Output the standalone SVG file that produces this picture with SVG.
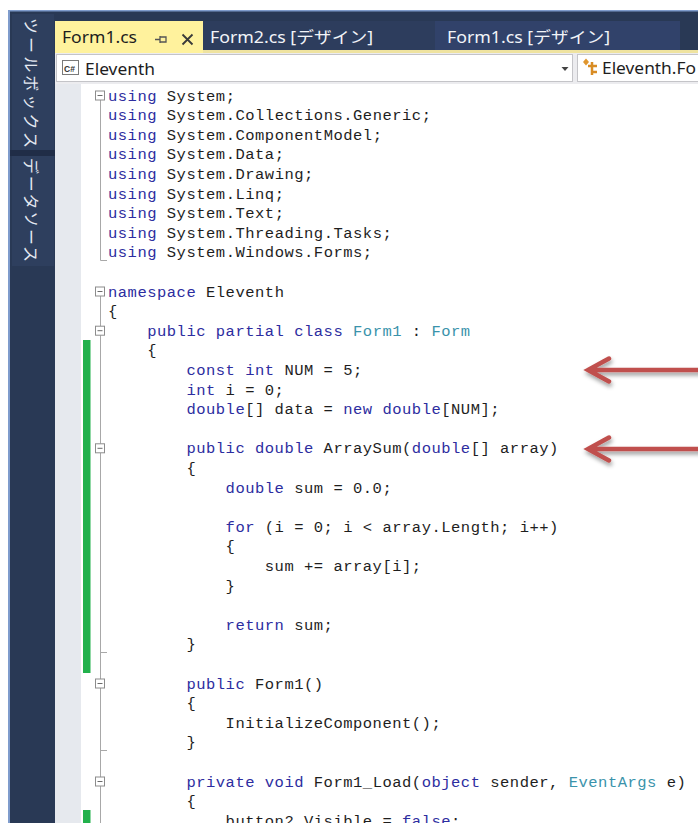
<svg xmlns="http://www.w3.org/2000/svg" width="698" height="823" viewBox="0 0 698 823">
  <defs>
    <style>
      .frame { fill: #293955; }
      .side-txt { font-family: "Noto Sans CJK JP", "Noto Sans", sans-serif; font-size: 16px; fill: #e4e9f2; }
      .tab-txt { font-family: "Noto Sans", "Noto Sans CJK JP", sans-serif; font-size: 16px; }
      .nav-txt { font-family: "Noto Sans", sans-serif; font-size: 16px; fill: #1e1e1e; }
      .c { font-family: "Liberation Mono", "DejaVu Sans Mono", monospace; font-size: 15.5px; letter-spacing: 0.5px; fill: #1e1e1e; }
      .k { fill: #2d2da0; }
      .t { fill: #3a93ab; }
      .fold rect { fill: #ffffff; stroke: #8c8c8c; stroke-width: 1; }
      .fold line { stroke: #6c6c6c; stroke-width: 1; }
      .guide { stroke: #a8a8a8; stroke-width: 1; fill: none; }
      .chg { fill: #22b14c; }
      .arrow { stroke: #c0504d; stroke-width: 4.5; fill: none; stroke-linecap: round; stroke-linejoin: miter; }
    </style>
    <filter id="shadow" x="-20%" y="-50%" width="140%" height="200%">
      <feDropShadow dx="1" dy="3" stdDeviation="2" flood-color="#000000" flood-opacity="0.4"/>
    </filter>
    <!-- collapse box used by the outlining margin -->
    <g id="fold-box" class="fold">
      <rect x="95.5" y="-4.5" width="9" height="9"/>
      <line x1="97.5" y1="0" x2="102.5" y2="0"/>
    </g>
  </defs>

  <!-- page -->
  <rect x="0" y="0" width="698" height="823" fill="#ffffff"/>

  <!-- IDE frame -->
  <rect x="8" y="10" width="690" height="813" fill="#7f9ccc"/>
  <rect x="10" y="11.5" width="688" height="811.5" class="frame"/>

  <!-- side tool tabs -->
  <g id="side-tabs">
    <rect x="12" y="14" width="42" height="136" fill="#2e3f5e"/>
    <rect x="12" y="156" width="42" height="110" fill="#2e3f5e"/>
    <rect x="10" y="150" width="45" height="6" fill="#202d47"/>
    <text class="side-txt" transform="translate(25,18) rotate(90)" textLength="130" lengthAdjust="spacing">ツールボックス</text>
    <text class="side-txt" transform="translate(25,158) rotate(90)" textLength="104" lengthAdjust="spacing">データソース</text>
  </g>

  <!-- document tabs -->
  <g id="doc-tabs">
    <rect x="203" y="21" width="232" height="29" fill="#2d3d5d"/>
    <rect x="435" y="21" width="245" height="29" fill="#31426a"/>
    <rect x="55" y="50" width="643" height="3" fill="#efe3a0"/>
    <g id="tab-form1">
      <rect x="55" y="21" width="148" height="32" fill="#fff29d"/>
      <text class="tab-txt" x="62" y="43" fill="#1e1e1e" textLength="75" lengthAdjust="spacingAndGlyphs">Form1.cs</text>
      <!-- pin -->
      <path d="M155 39.5 H160 M160 36 V43 M160 37 H166 V42 H160" stroke="#555555" stroke-width="1.3" fill="none"/>
      <!-- close -->
      <path d="M182.5 34.5 L192.5 44.5 M192.5 34.5 L182.5 44.5" stroke="#3a3a3a" stroke-width="1.8"/>
    </g>
    <g id="tab-form2-design">
      <text class="tab-txt" x="210" y="43" fill="#f2f4f8" textLength="163" lengthAdjust="spacingAndGlyphs">Form2.cs [デザイン]</text>
    </g>
    <g id="tab-form1-design">
      <text class="tab-txt" x="447" y="43" fill="#f2f4f8" textLength="163" lengthAdjust="spacingAndGlyphs">Form1.cs [デザイン]</text>
    </g>
  </g>

  <!-- navigation bar -->
  <g id="nav-bar">
    <rect x="55" y="53" width="643" height="31" fill="#ececef"/>
    <g id="nav-project">
      <rect x="56.5" y="54.5" width="516" height="27" fill="#ffffff" stroke="#c4c4c8"/>
      <rect x="62.5" y="60.5" width="16" height="14" fill="#ffffff" stroke="#7a7a7a"/>
      <text x="64" y="71.5" font-family="Liberation Sans, sans-serif" font-size="8.5px" font-weight="bold" fill="#333333">C#</text>
      <text class="nav-txt" x="85" y="75" textLength="70" lengthAdjust="spacingAndGlyphs">Eleventh</text>
      <path d="M561.5 67 H568.5 L565 71 Z" fill="#444444"/>
    </g>
    <g id="nav-type">
      <rect x="577.5" y="54.5" width="130" height="27" fill="#ffffff" stroke="#c4c4c8"/>
      <path d="M583 62 L586 58.5 L589 62 L586 65.5 Z" fill="#e0962e"/>
      <path d="M588 66 H597 M592 62 V75 M592 72 H597" stroke="#d88c24" stroke-width="2.5" fill="none"/>
      <text class="nav-txt" x="602" y="74" textLength="94" lengthAdjust="spacingAndGlyphs">Eleventh.Fo</text>
    </g>
  </g>

  <!-- editor surface -->
  <rect x="55" y="84" width="643" height="739" fill="#ffffff"/>
  <rect x="55" y="84" width="26" height="739" fill="#e6e9ee"/>

  <!-- change markers -->
  <g id="change-bars">
    <rect class="chg" x="83" y="340" width="7.5" height="333"/>
    <rect class="chg" x="83" y="810" width="7.5" height="13"/>
  </g>

  <!-- outlining guides -->
  <g id="outlining">
    <path class="guide" d="M100.5 100 V260.5 H107"/>
    <path class="guide" d="M100.5 296 V326.2 M100.5 335.2 V443.8 M100.5 452.8 V679 M100.5 688 V777 M100.5 786 V823"/>
    <path class="guide" d="M100.5 652.5 H107 M100.5 750.5 H107"/>
    <use href="#fold-box" y="95.5"/>
    <use href="#fold-box" y="291.5"/>
    <use href="#fold-box" y="330.7"/>
    <use href="#fold-box" y="448.3"/>
    <use href="#fold-box" y="683.5"/>
    <use href="#fold-box" y="781.5"/>
  </g>

  <!-- source code -->
  <g id="code">
    <text class="c" x="108" y="100.5"><tspan class="k">using</tspan> System;</text>
    <text class="c" x="108" y="120.1"><tspan class="k">using</tspan> System.Collections.Generic;</text>
    <text class="c" x="108" y="139.7"><tspan class="k">using</tspan> System.ComponentModel;</text>
    <text class="c" x="108" y="159.3"><tspan class="k">using</tspan> System.Data;</text>
    <text class="c" x="108" y="178.9"><tspan class="k">using</tspan> System.Drawing;</text>
    <text class="c" x="108" y="198.5"><tspan class="k">using</tspan> System.Linq;</text>
    <text class="c" x="108" y="218.1"><tspan class="k">using</tspan> System.Text;</text>
    <text class="c" x="108" y="237.7"><tspan class="k">using</tspan> System.Threading.Tasks;</text>
    <text class="c" x="108" y="257.3"><tspan class="k">using</tspan> System.Windows.Forms;</text>

    <text class="c" x="108" y="296.5"><tspan class="k">namespace</tspan> Eleventh</text>
    <text class="c" x="108" y="316.1">{</text>
    <text class="c" x="147.2" y="335.7"><tspan class="k">public partial class</tspan> <tspan class="t">Form1</tspan> : <tspan class="t">Form</tspan></text>
    <text class="c" x="147.2" y="355.3">{</text>
    <text class="c" x="186.4" y="374.9"><tspan class="k">const int</tspan> NUM = 5;</text>
    <text class="c" x="186.4" y="394.5"><tspan class="k">int</tspan> i = 0;</text>
    <text class="c" x="186.4" y="414.1"><tspan class="k">double</tspan>[] data = <tspan class="k">new double</tspan>[NUM];</text>

    <text class="c" x="186.4" y="453.3"><tspan class="k">public double</tspan> ArraySum(<tspan class="k">double</tspan>[] array)</text>
    <text class="c" x="186.4" y="472.9">{</text>
    <text class="c" x="225.6" y="492.5"><tspan class="k">double</tspan> sum = 0.0;</text>
    <text class="c" x="225.6" y="531.7"><tspan class="k">for</tspan> (i = 0; i &lt; array.Length; i++)</text>
    <text class="c" x="225.6" y="551.3">{</text>
    <text class="c" x="264.8" y="570.9">sum += array[i];</text>
    <text class="c" x="225.6" y="590.5">}</text>
    <text class="c" x="225.6" y="629.7"><tspan class="k">return</tspan> sum;</text>
    <text class="c" x="186.4" y="649.3">}</text>

    <text class="c" x="186.4" y="688.5"><tspan class="k">public</tspan> Form1()</text>
    <text class="c" x="186.4" y="708.1">{</text>
    <text class="c" x="225.6" y="727.7">InitializeComponent();</text>
    <text class="c" x="186.4" y="747.3">}</text>

    <text class="c" x="186.4" y="786.5"><tspan class="k">private void</tspan> Form1_Load(<tspan class="k">object</tspan> sender, <tspan class="t">EventArgs</tspan> e)</text>
    <text class="c" x="186.4" y="806.1">{</text>
    <text class="c" x="225.6" y="825.7">button2.Visible = <tspan class="k">false</tspan>;</text>
  </g>

  <!-- callout arrows -->
  <g id="connectors" filter="url(#shadow)">
    <path class="arrow" d="M702 370 H588 M609 358.5 L588 370 L609 381.5"/>
    <path class="arrow" d="M702 449 H588 M609 437.5 L588 449 L609 460.5"/>
  </g>
</svg>
